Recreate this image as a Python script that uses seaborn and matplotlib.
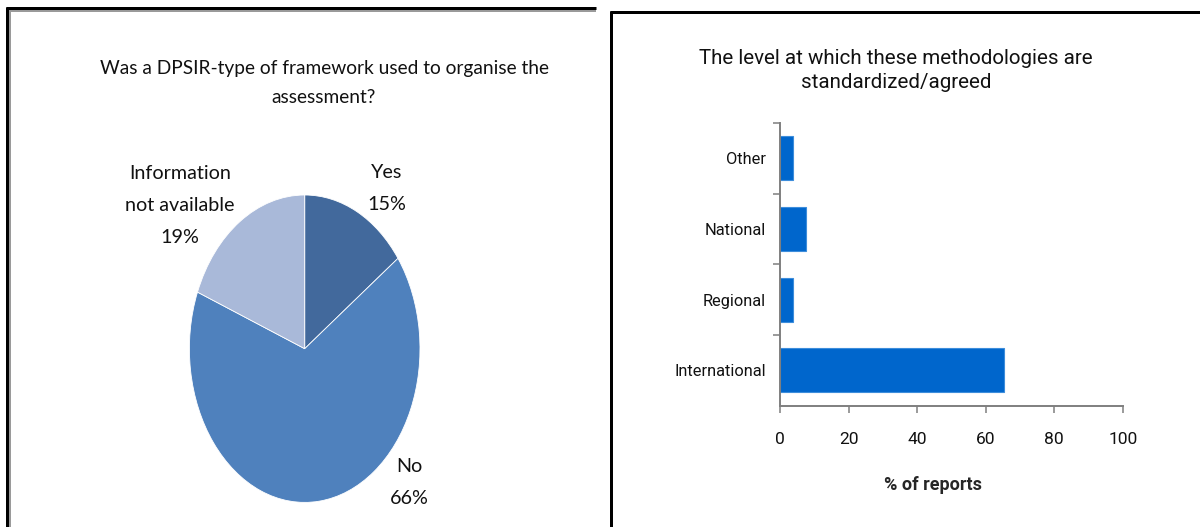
import matplotlib
matplotlib.use("Agg")
import matplotlib.pyplot as plt
from matplotlib.lines import Line2D
import numpy as np
import pandas as pd
import seaborn as sns

# --- data -------------------------------------------------------------
pie_labels = ["Yes", "No", "Information\nnot available"]
pie_values = [15, 66, 19]
pie_colors = ["#42699C", "#4F81BD", "#A9B9D9"]

levels = ["Other", "National", "Regional", "International"]
level_share = [3.8, 7.7, 3.8, 65.4]
x_ticks = [0, 20, 40, 60, 80, 100]

pie_title = "Was a DPSIR-type of framework used to organise the\nassessment?"
bar_title = "The level at which these methodologies are\nstandardized/agreed"
bar_xlabel = "% of reports"

# --- figure -----------------------------------------------------------
W, H = 1200, 527
sns.set_theme(style="white")
plt.rcParams["font.family"] = ["Roboto", "DejaVu Sans"]
fig = plt.figure(figsize=(W / 100, H / 100), dpi=100)
fig.patch.set_facecolor("white")


def fx(px):
    return px / W


def fy(py):
    return 1 - py / H


def frame_line(xs, ys, color, lw):
    fig.add_artist(Line2D([fx(v) for v in xs], [fy(v) for v in ys],
                          color=color, lw=lw * 0.72, solid_capstyle="butt"))


# panel frames
frame_line([6, 596], [8, 8], "black", 3)
frame_line([9, 596], [10.5, 10.5], "#9a9a9a", 2)
frame_line([7, 7], [7, H], "black", 3)
frame_line([10, 10], [10, H], "#9a9a9a", 2)
frame_line([611, 611], [11, H], "black", 3)
frame_line([610, W], [12, 12], "black", 3)

# --- pie panel ----------------------------------------------------------
cx, cy, rx, ry = 304.7, 348.7, 115.3, 153.7
xl, yl = (-1.5, 1.5), (-1.1, 1.4)
ax1 = fig.add_axes([fx(cx + rx * xl[0]), fy(cy - ry * yl[0]),
                    rx * (xl[1] - xl[0]) / W, ry * (yl[1] - yl[0]) / H])
wedges, _ = ax1.pie(pie_values, colors=pie_colors, startangle=90,
                    counterclock=False, radius=1.0,
                    wedgeprops=dict(edgecolor="white", linewidth=0.6))
ax1.set_aspect("auto")
ax1.set_xlim(*xl)
ax1.set_ylim(*yl)
ax1.axis("off")

# label offsets in pie units (horizontal, vertical)
label_pos = [(0.71, 1.04), (0.91, -0.87), (-1.08, 0.93)]
for lab, val, (lx, ly) in zip(pie_labels, pie_values, label_pos):
    ax1.text(lx, ly, f"{lab}\n{val}%", ha="center", va="center",
             fontsize=14.2, family=["Lato", "DejaVu Sans"],
             linespacing=2.08, color="#111111")

fig.text(fx(324), fy(83), pie_title, ha="center", va="center",
         fontsize=13.8, family=["Lato", "DejaVu Sans"],
         linespacing=1.8, color="#111111")

# --- bar panel ----------------------------------------------------------
x0, x1, y0, y1 = 780, 1122.7, 123, 405.7
ax2 = fig.add_axes([fx(x0), fy(y1), (x1 - x0) / W, (y1 - y0) / H])
df = pd.DataFrame({"level": levels, "share": level_share})
sns.barplot(data=df, x="share", y="level", orient="h", color="#0066CC",
            saturation=1, width=0.62, edgecolor="#3d8ddb", linewidth=0.8,
            ax=ax2)
ax2.set_xlim(0, 100)
ax2.set_ylim(len(levels) - 0.5, -0.5)
ax2.set_xticks(x_ticks)
ax2.set_xticklabels([str(t) for t in x_ticks])
ax2.set_yticks(np.arange(len(levels)) - 0.5, minor=True)
ax2.set_yticks(np.arange(len(levels)))
ax2.set_yticklabels(levels)
ax2.set_ylabel("")
ax2.set_xlabel(bar_xlabel, fontsize=13, fontweight="bold")
ax2.xaxis.set_label_coords((933 - x0) / (x1 - x0), -0.247)
for side in ("top", "right"):
    ax2.spines[side].set_visible(False)
for side in ("left", "bottom"):
    ax2.spines[side].set_color("#7f7f7f")
    ax2.spines[side].set_linewidth(1.4)
ax2.tick_params(axis="x", which="major", direction="out", length=5,
                width=1.1, color="#7f7f7f", labelsize=12.5, pad=14,
                bottom=True, labelcolor="#111111")
ax2.tick_params(axis="y", which="major", length=0, labelsize=11.8, pad=10,
                labelcolor="#111111")
ax2.tick_params(axis="y", which="minor", direction="out", length=5,
                width=1.1, color="#7f7f7f", left=True)
ax2.set_facecolor("white")

fig.text(fx(896), fy(70.5), bar_title, ha="center", va="center",
         fontsize=14.8, linespacing=1.32, color="#111111")

fig.savefig("out.png", dpi=100, facecolor="white")
